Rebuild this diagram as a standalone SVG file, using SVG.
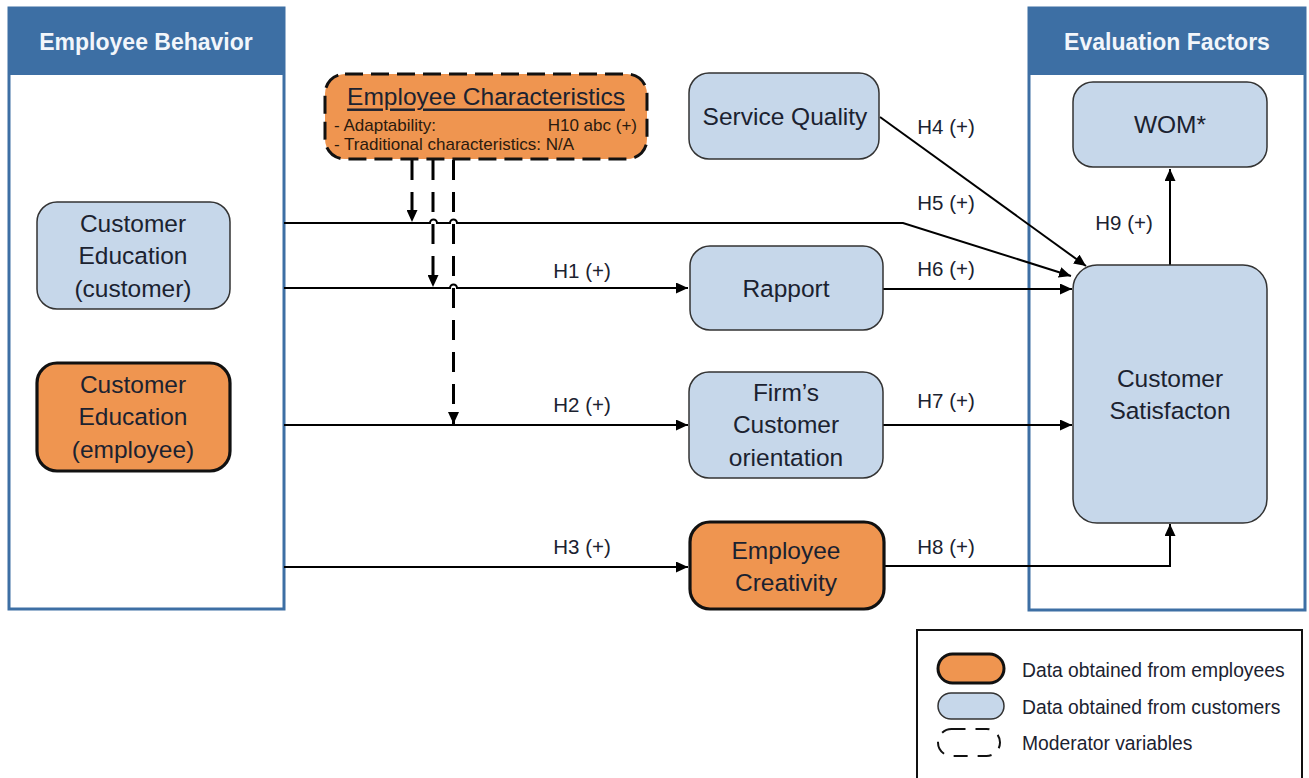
<svg xmlns="http://www.w3.org/2000/svg" width="1309" height="778" viewBox="0 0 1309 778">
  <defs>
    <marker id="arrow" markerUnits="userSpaceOnUse" markerWidth="13" markerHeight="11" refX="12" refY="5.5" orient="auto">
      <path d="M0,0 L12,5.5 L0,11 z" fill="#000"/>
    </marker>
    <style>
      .panel { fill: #fff; stroke: #3d6fa4; stroke-width: 3; }
      .head { fill: #3d6fa4; }
      .headtxt { font-family: "Liberation Sans", Arial, sans-serif; font-weight: bold; font-size: 23px; fill: #f2f6fb; text-anchor: middle; }
      .cust { fill: #c6d7ea; stroke: #333; stroke-width: 1.5; }
      .empl { fill: #ef9550; stroke: #111; stroke-width: 3.2; }
      .mod { fill: #ef9550; stroke: #111; stroke-width: 3; stroke-dasharray: 18 8; }
      .t { font-family: "Liberation Sans", Arial, sans-serif; font-size: 24.5px; fill: #1b2230; text-anchor: middle; dominant-baseline: central; }
      .lbl { font-family: "Liberation Sans", Arial, sans-serif; font-size: 20.5px; fill: #1b2230; text-anchor: middle; dominant-baseline: central; }
      .small { font-family: "Liberation Sans", Arial, sans-serif; font-size: 17px; fill: #2a1a0e; }
      .leg { font-family: "Liberation Sans", Arial, sans-serif; font-size: 19.3px; fill: #1b2230; dominant-baseline: central; }
      .edge { fill: none; stroke: #000; stroke-width: 2; }
      .dash { fill: none; stroke: #000; stroke-width: 3; stroke-dasharray: 20 12; }
    </style>
  </defs>

  <!-- Panels -->
  <g id="panel-behavior">
    <rect class="panel" x="9" y="8" width="275" height="601"/>
    <rect class="head" x="9" y="8" width="275" height="67"/>
    <text class="headtxt" x="146" y="50">Employee Behavior</text>
  </g>
  <g id="panel-evaluation">
    <rect class="panel" x="1029" y="8" width="276" height="602"/>
    <rect class="head" x="1029" y="8" width="276" height="67"/>
    <text class="headtxt" x="1167" y="50">Evaluation Factors</text>
  </g>

  <!-- Connectors -->
  <g id="connectors">
    <!-- H5: customer education (customer) to satisfaction, hopping over moderator lines -->
    <path class="edge" d="M284,223 H430 a3.5,3.5 0 0 1 7,0 H450 a3.5,3.5 0 0 1 7,0 H903 L1071,276" marker-end="url(#arrow)"/>
    <!-- H1 -->
    <path class="edge" d="M284,288 H450 a3.5,3.5 0 0 1 7,0 H688" marker-end="url(#arrow)"/>
    <!-- H2 -->
    <path class="edge" d="M284,425 H688" marker-end="url(#arrow)"/>
    <!-- H3 -->
    <path class="edge" d="M284,567 H688" marker-end="url(#arrow)"/>
    <!-- H4 -->
    <path class="edge" d="M880,117 L1086,266" marker-end="url(#arrow)"/>
    <!-- H6 -->
    <path class="edge" d="M883,289 L1072,289" marker-end="url(#arrow)"/>
    <!-- H7 -->
    <path class="edge" d="M883,425 H1072" marker-end="url(#arrow)"/>
    <!-- H8 -->
    <path class="edge" d="M884,566 H1170 V524" marker-end="url(#arrow)"/>
    <!-- H9 -->
    <path class="edge" d="M1170,265 V169" marker-end="url(#arrow)"/>

    <!-- Moderator effects -->
    <path class="dash" d="M412,160 V222" marker-end="url(#arrow)"/>
    <path class="dash" d="M433,160 V287" marker-end="url(#arrow)"/>
    <path class="dash" d="M453.5,160 V424" marker-end="url(#arrow)"/>

    <!-- Hypothesis labels -->
    <text class="lbl" x="582" y="270">H1 (+)</text>
    <text class="lbl" x="582" y="404">H2 (+)</text>
    <text class="lbl" x="582" y="546">H3 (+)</text>
    <text class="lbl" x="946" y="126">H4 (+)</text>
    <text class="lbl" x="946" y="202">H5 (+)</text>
    <text class="lbl" x="946" y="268">H6 (+)</text>
    <text class="lbl" x="946" y="400">H7 (+)</text>
    <text class="lbl" x="946" y="546">H8 (+)</text>
    <text class="lbl" x="1124" y="222">H9 (+)</text>
  </g>

  <!-- Nodes -->
  <g id="ce-customer">
    <rect class="cust" x="37" y="202" width="193" height="107" rx="20"/>
    <text class="t" x="133" y="223">Customer</text>
    <text class="t" x="133" y="255">Education</text>
    <text class="t" x="133" y="288">(customer)</text>
  </g>
  <g id="ce-employee">
    <rect class="empl" x="37" y="363" width="193" height="108" rx="20"/>
    <text class="t" x="133" y="384">Customer</text>
    <text class="t" x="133" y="416">Education</text>
    <text class="t" x="133" y="449">(employee)</text>
  </g>
  <g id="employee-characteristics">
    <rect class="mod" x="325" y="74" width="322" height="85" rx="20"/>
    <text class="t" x="486" y="96" text-decoration="underline">Employee Characteristics</text>
    <text class="small" x="334" y="131">- Adaptability:</text>
    <text class="small" x="637" y="131" text-anchor="end">H10 abc (+)</text>
    <text class="small" x="334" y="150">- Traditional characteristics: N/A</text>
  </g>
  <g id="service-quality">
    <rect class="cust" x="689" y="73" width="190" height="86" rx="20"/>
    <text class="t" x="785" y="116">Service Quality</text>
  </g>
  <g id="rapport">
    <rect class="cust" x="690" y="246" width="193" height="84" rx="20"/>
    <text class="t" x="786" y="288">Rapport</text>
  </g>
  <g id="customer-orientation">
    <rect class="cust" x="689" y="372" width="194" height="106" rx="20"/>
    <text class="t" x="786" y="392">Firm’s</text>
    <text class="t" x="786" y="424">Customer</text>
    <text class="t" x="786" y="457">orientation</text>
  </g>
  <g id="employee-creativity">
    <rect class="empl" x="690" y="522" width="194" height="87" rx="20"/>
    <text class="t" x="786" y="550">Employee</text>
    <text class="t" x="786" y="582">Creativity</text>
  </g>
  <g id="wom">
    <rect class="cust" x="1073" y="82" width="194" height="85" rx="20"/>
    <text class="t" x="1170" y="124">WOM*</text>
  </g>
  <g id="satisfaction">
    <rect class="cust" x="1073" y="265" width="194" height="258" rx="24"/>
    <text class="t" x="1170" y="378">Customer</text>
    <text class="t" x="1170" y="410">Satisfacton</text>
  </g>

  <!-- Legend -->
  <g id="legend">
    <rect x="917" y="630" width="385" height="160" fill="#fff" stroke="#111" stroke-width="2"/>
    <rect x="938" y="654" width="66" height="29" rx="14.5" fill="#ef9550" stroke="#111" stroke-width="3"/>
    <rect x="938" y="693" width="66" height="26" rx="13" fill="#c6d7ea" stroke="#333" stroke-width="1.5"/>
    <rect x="938" y="729" width="62" height="27" rx="13.5" fill="none" stroke="#111" stroke-width="2" stroke-dasharray="14 10"/>
    <text class="leg" x="1022" y="670">Data obtained from employees</text>
    <text class="leg" x="1022" y="707">Data obtained from customers</text>
    <text class="leg" x="1022" y="743">Moderator variables</text>
  </g>
</svg>
